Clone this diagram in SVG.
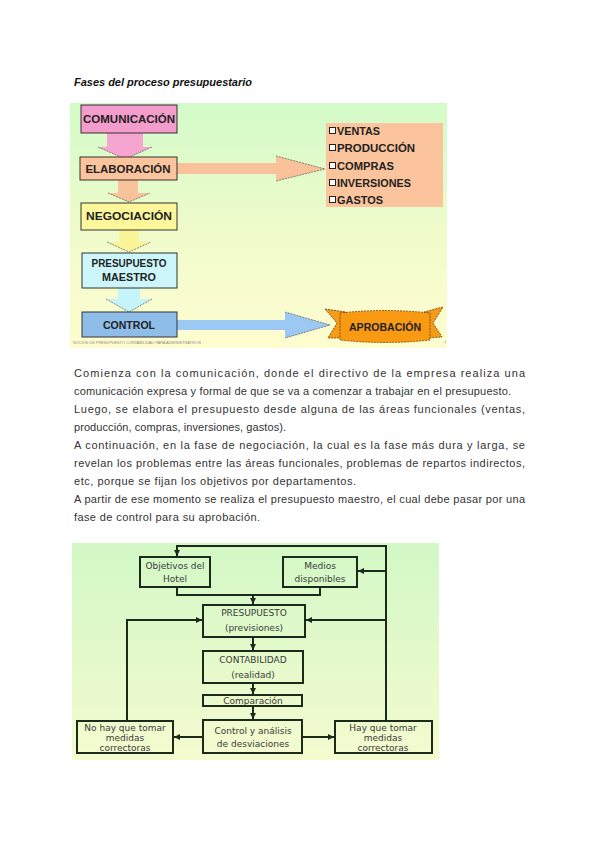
<svg xmlns="http://www.w3.org/2000/svg" width="600" height="848" viewBox="0 0 600 848">
<defs>
<linearGradient id="bg1" x1="0" y1="0" x2="0" y2="1">
<stop offset="0" stop-color="#d3fbc9"/>
<stop offset="0.5" stop-color="#eefbcb"/>
<stop offset="1" stop-color="#fffdd0"/>
</linearGradient>
<linearGradient id="bg2" x1="0" y1="0" x2="0" y2="1">
<stop offset="0" stop-color="#d2f8c6"/>
<stop offset="1" stop-color="#f4fbcf"/>
</linearGradient>
<marker id="ah" markerUnits="userSpaceOnUse" markerWidth="8" markerHeight="8" refX="6" refY="4" orient="auto">
<path d="M0,1 L6,4 L0,7 Z" fill="#1b2a1b"/>
</marker>
<style>
.t{font-family:"Liberation Sans",Arial,sans-serif;font-weight:bold;font-size:11px;fill:#222;text-anchor:middle}
.li{font-family:"Liberation Sans",Arial,sans-serif;font-weight:bold;font-size:11px;fill:#222}
.bx{stroke:#333;stroke-width:1}
.ahd{stroke:#555;stroke-width:0.7;stroke-dasharray:2 1}
.p{font-family:"Liberation Sans",Arial,sans-serif;font-size:11px;fill:#333}
.b{fill:none;stroke:#1b2a1b;stroke-width:2}
.c{fill:none;stroke:#1b2a1b;stroke-width:2}
.d{font-family:"DejaVu Sans",sans-serif;font-size:9px;fill:#3a3a3a;text-anchor:middle}
</style>
</defs>
<rect width="600" height="848" fill="#ffffff"/>
<text x="74" y="86" font-family="Liberation Sans, Arial, sans-serif" font-size="11" font-weight="bold" font-style="italic" fill="#111" textLength="178" lengthAdjust="spacing">Fases del proceso presupuestario</text>

<!-- top figure -->
<g id="fig1">
<rect x="70" y="103" width="377" height="245" fill="url(#bg1)"/>
<g id="arrows1">
<path d="M107,133 H143 V147 H152 L125,159 L98,147 H107 Z" fill="#f6a4d0"/>
<path d="M98,147 L125,159 L152,147" class="ahd" fill="none"/>
<path d="M118,180 H138 V193 H150 L129,202 L108,193 H118 Z" fill="#f9c29a"/>
<path d="M108,193 L129,202 L150,193" class="ahd" fill="none"/>
<path d="M119,230 H139 V242 H151 L129,252 L107,242 H119 Z" fill="#fbf59a"/>
<path d="M107,242 L129,252 L151,242" class="ahd" fill="none"/>
<path d="M118,288 H140 V299 H152 L129,312 L106,299 H118 Z" fill="#c6f4fb"/>
<path d="M106,299 L129,312 L152,299" class="ahd" fill="none"/>
<path d="M177,163 H276 V156 L325,169 L276,181 V174 H177 Z" fill="#f9c29a"/>
<path d="M276,156 L325,169 L276,181" class="ahd" fill="none"/>
<path d="M177,320 H285 V312 L330,325 L285,338 V330 H177 Z" fill="#9cc8f4"/>
<path d="M285,312 L330,325 L285,338" class="ahd" fill="none"/>
</g>
<g id="comunicacion"><rect x="81" y="105" width="96" height="28" fill="#f49ccc" class="bx"/><text x="129" y="123" class="t" textLength="92" lengthAdjust="spacingAndGlyphs">COMUNICACIÓN</text></g>
<g id="elaboracion"><rect x="80" y="157" width="97" height="23" fill="#fbc49c" class="bx"/><text x="128" y="173" class="t" textLength="85" lengthAdjust="spacingAndGlyphs">ELABORACIÓN</text></g>
<g id="negociacion"><rect x="81" y="203" width="96" height="27" fill="#fdf79b" class="bx"/><text x="129" y="220" class="t" textLength="86" lengthAdjust="spacingAndGlyphs">NEGOCIACIÓN</text></g>
<g id="maestro"><rect x="82" y="253" width="95" height="35" fill="#cdf6fb" class="bx"/><text x="129" y="267" class="t" textLength="75" lengthAdjust="spacingAndGlyphs">PRESUPUESTO</text><text x="129" y="281" class="t" textLength="54" lengthAdjust="spacingAndGlyphs">MAESTRO</text></g>
<g id="control"><rect x="82" y="312" width="95" height="25" fill="#8fbdea" class="bx"/><text x="129" y="329" class="t" textLength="52" lengthAdjust="spacingAndGlyphs">CONTROL</text></g>
<g id="lista">
<rect x="326" y="123" width="117" height="84" fill="#fbc49c"/>
<g fill="#fff" stroke="#222" stroke-width="1">
<rect x="329.5" y="127.5" width="6" height="6"/><rect x="329.5" y="144.5" width="6" height="6"/><rect x="329.5" y="162.5" width="6" height="6"/><rect x="329.5" y="179.5" width="6" height="6"/><rect x="329.5" y="196.5" width="6" height="6"/>
</g>
<text x="337" y="135" class="li" textLength="43" lengthAdjust="spacingAndGlyphs">VENTAS</text>
<text x="337" y="152" class="li" textLength="78" lengthAdjust="spacingAndGlyphs">PRODUCCIÓN</text>
<text x="337" y="170" class="li" textLength="57" lengthAdjust="spacingAndGlyphs">COMPRAS</text>
<text x="337" y="187" class="li" textLength="74" lengthAdjust="spacingAndGlyphs">INVERSIONES</text>
<text x="337" y="204" class="li" textLength="46" lengthAdjust="spacingAndGlyphs">GASTOS</text>
</g>
<g id="aprobacion">
<path d="M325,309 L346,312 L346,338 L328,338 L337,323 Z" fill="#f59b1a" stroke="#6b3a00" stroke-width="0.8" stroke-dasharray="2 1"/>
<path d="M443,307 L424,312 L424,338 L442,337 L433,323 Z" fill="#f59b1a" stroke="#6b3a00" stroke-width="0.8" stroke-dasharray="2 1"/>
<path d="M340,313 Q385,308 430,313 L430,340 Q385,345 340,340 Z" fill="#fa9a12" stroke="#6b3a00" stroke-width="0.8" stroke-dasharray="2 1"/>
<text x="385" y="331" class="t" fill="#3a1f00" textLength="72" lengthAdjust="spacingAndGlyphs">APROBACIÓN</text>
</g>
<text x="73" y="344" font-family="Liberation Sans, Arial, sans-serif" font-size="4" fill="#888" textLength="128" lengthAdjust="spacingAndGlyphs">NOCIÓN DE PRESUPUESTO CONTABILIDAD PARA ADMINISTRATIVOS</text>
<text x="444" y="344" font-family="Liberation Sans, Arial, sans-serif" font-size="4" fill="#888">7</text>
</g>

<!-- paragraph -->
<g id="texto">
<text x="74" y="377" class="p" textLength="451" lengthAdjust="spacing">Comienza con la comunicación, donde el directivo de la empresa realiza una</text>
<text x="74" y="395" class="p" textLength="437" lengthAdjust="spacing">comunicación expresa y formal de que se va a comenzar a trabajar en el presupuesto.</text>
<text x="74" y="413" class="p" textLength="451" lengthAdjust="spacing">Luego, se elabora el presupuesto desde alguna de las áreas funcionales (ventas,</text>
<text x="74" y="431" class="p" textLength="212" lengthAdjust="spacing">producción, compras, inversiones, gastos).</text>
<text x="74" y="449" class="p" textLength="451" lengthAdjust="spacing">A continuación, en la fase de negociación, la cual es la fase más dura y larga, se</text>
<text x="74" y="467" class="p" textLength="451" lengthAdjust="spacing">revelan los problemas entre las áreas funcionales, problemas de repartos indirectos,</text>
<text x="74" y="485" class="p" textLength="282" lengthAdjust="spacing">etc, porque se fijan los objetivos por departamentos.</text>
<text x="74" y="503" class="p" textLength="451" lengthAdjust="spacing">A partir de ese momento se realiza el presupuesto maestro, el cual debe pasar por una</text>
<text x="74" y="521" class="p" textLength="186" lengthAdjust="spacing">fase de control para su aprobación.</text>
</g>

<!-- bottom figure -->
<rect x="72" y="543" width="367" height="217" fill="url(#bg2)"/>
<g id="connectors">
<path d="M177,587 V595 H320 V587" class="c"/>
<path d="M253,595 V604" class="c" marker-end="url(#ah)"/>
<path d="M386,721 V546 H177 V556" class="c" marker-end="url(#ah)"/>
<path d="M386,571 H358" class="c" marker-end="url(#ah)"/>
<path d="M386,620 H306" class="c" marker-end="url(#ah)"/>
<path d="M127,721 V620 H202" class="c" marker-end="url(#ah)"/>
<path d="M253,637 V650" class="c" marker-end="url(#ah)"/>
<path d="M253,683 V694" class="c" marker-end="url(#ah)"/>
<path d="M253,706 V719" class="c" marker-end="url(#ah)"/>
<path d="M203,737 H174" class="c" marker-end="url(#ah)"/>
<path d="M302,737 H334" class="c" marker-end="url(#ah)"/>
</g>
<g id="objetivos"><rect x="140" y="557" width="70" height="30" class="b"/><text x="175" y="569" class="d">Objetivos del</text><text x="175" y="582" class="d">Hotel</text></g>
<g id="medios"><rect x="283" y="557" width="74" height="30" class="b"/><text x="320" y="569" class="d">Medios</text><text x="320" y="582" class="d">disponibles</text></g>
<g id="presupuesto"><rect x="203" y="605" width="102" height="32" class="b"/><text x="254" y="616" class="d">PRESUPUESTO</text><text x="254" y="631" class="d">(previsiones)</text></g>
<g id="contabilidad"><rect x="203" y="651" width="100" height="32" class="b"/><text x="253" y="663" class="d">CONTABILIDAD</text><text x="253" y="678" class="d">(realidad)</text></g>
<g id="comparacion"><rect x="203" y="695" width="99" height="11" class="b"/><text x="253" y="704" class="d">Comparación</text></g>
<g id="controlanalisis"><rect x="203" y="720" width="99" height="33" class="b"/><text x="253" y="734" class="d">Control y análisis</text><text x="253" y="747" class="d">de desviaciones</text></g>
<g id="nohay"><rect x="77" y="721" width="96" height="32" class="b"/><text x="125" y="731" class="d">No hay que tomar</text><text x="125" y="741" class="d">medidas</text><text x="125" y="751" class="d">correctoras</text></g>
<g id="hay"><rect x="335" y="721" width="97" height="32" class="b"/><text x="383" y="731" class="d">Hay que tomar</text><text x="383" y="741" class="d">medidas</text><text x="383" y="751" class="d">correctoras</text></g>
</svg>
